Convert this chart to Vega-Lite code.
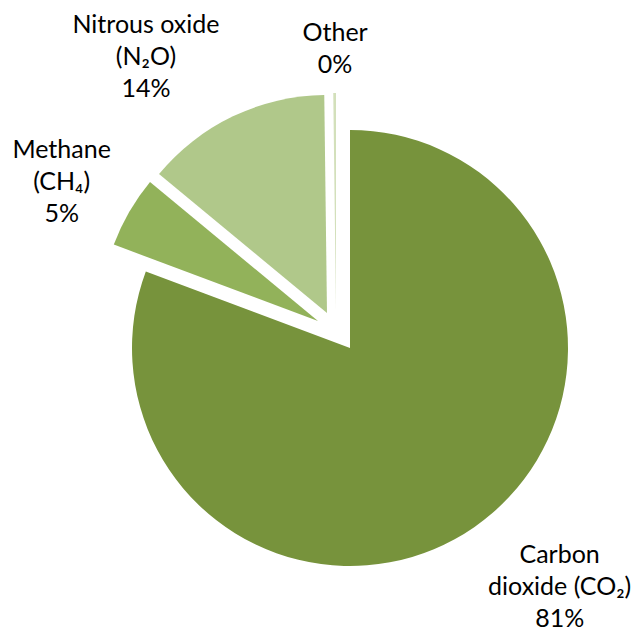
{
  "$schema": "https://vega.github.io/schema/vega-lite/v6.json",
  "autosize": {"type": "none"},
  "padding": {"left": 67, "top": 66, "right": 0, "bottom": 0},
  "width": 566,
  "height": 564,
  "background": "white",
  "view": {"stroke": null},
  "data": {
    "values": [
      {"gas": "Carbon dioxide", "label": ["Carbon", "dioxide (CO₂)", "81%"], "share": 80.7, "order": 1},
      {"gas": "Methane", "label": ["Methane", "(CH₄)", "5%"], "share": 5.3, "order": 2},
      {"gas": "Nitrous oxide", "label": ["Nitrous oxide", "(N₂O)", "14%"], "share": 13.8, "order": 3},
      {"gas": "Other", "label": ["Other", "0%"], "share": 0.2, "order": 4}
    ]
  },
  "transform": [
    {"stack": "share", "groupby": [], "sort": [{"field": "order", "order": "ascending"}], "as": ["start", "end"]},
    {"calculate": "(datum.start + datum.end) / 2", "as": "mid"}
  ],
  "encoding": {
    "color": {
      "field": "gas",
      "type": "nominal",
      "scale": {
        "domain": ["Carbon dioxide", "Methane", "Nitrous oxide", "Other"],
        "range": ["#77933c", "#92b25a", "#b0c88a", "#d3e0bb"]
      },
      "legend": null
    }
  },
  "layer": [
    {
      "transform": [{"filter": "datum.gas === 'Carbon dioxide'"}],
      "mark": {"type": "arc", "outerRadius": 218},
      "encoding": {"theta": {"field": "start", "type": "quantitative", "scale": {"domain": [0, 100]}}, "theta2": {"field": "end"}}
    },
    {
      "transform": [{"filter": "datum.gas === 'Methane'"}],
      "mark": {"type": "arc", "outerRadius": 218, "xOffset": -32, "yOffset": -27},
      "encoding": {"theta": {"field": "start", "type": "quantitative", "scale": {"domain": [0, 100]}}, "theta2": {"field": "end"}}
    },
    {
      "transform": [{"filter": "datum.gas === 'Nitrous oxide'"}],
      "mark": {"type": "arc", "outerRadius": 218, "xOffset": -23, "yOffset": -35},
      "encoding": {"theta": {"field": "start", "type": "quantitative", "scale": {"domain": [0, 100]}}, "theta2": {"field": "end"}}
    },
    {
      "transform": [{"filter": "datum.gas === 'Other'"}],
      "mark": {"type": "arc", "outerRadius": 218, "xOffset": -14, "yOffset": -37},
      "encoding": {"theta": {"field": "start", "type": "quantitative", "scale": {"domain": [0, 100]}}, "theta2": {"field": "end"}}
    },
    {
      "transform": [{"filter": "datum.gas === 'Carbon dioxide'"}],
      "mark": {"type": "text", "radius": 317, "dx": 29, "dy": -53, "font": "Lato", "fontSize": 25, "lineHeight": 32, "align": "center", "baseline": "middle"},
      "encoding": {"theta": {"field": "mid", "type": "quantitative", "scale": {"domain": [0, 100]}}, "text": {"field": "label"}, "color": {"value": "#000000"}}
    },
    {
      "transform": [{"filter": "datum.gas === 'Methane'"}],
      "mark": {"type": "text", "radius": 332, "dx": -1, "dy": -32, "font": "Lato", "fontSize": 25, "lineHeight": 32, "align": "center", "baseline": "middle"},
      "encoding": {"theta": {"field": "mid", "type": "quantitative", "scale": {"domain": [0, 100]}}, "text": {"field": "label"}, "color": {"value": "#000000"}}
    },
    {
      "transform": [{"filter": "datum.gas === 'Nitrous oxide'"}],
      "mark": {"type": "text", "radius": 350, "dx": -53, "dy": -7, "font": "Lato", "fontSize": 25, "lineHeight": 32, "align": "center", "baseline": "middle"},
      "encoding": {"theta": {"field": "mid", "type": "quantitative", "scale": {"domain": [0, 100]}}, "text": {"field": "label"}, "color": {"value": "#000000"}}
    },
    {
      "transform": [{"filter": "datum.gas === 'Other'"}],
      "mark": {"type": "text", "radius": 299, "dx": -13, "dy": -16, "font": "Lato", "fontSize": 25, "lineHeight": 32, "align": "center", "baseline": "middle"},
      "encoding": {"theta": {"field": "mid", "type": "quantitative", "scale": {"domain": [0, 100]}}, "text": {"field": "label"}, "color": {"value": "#000000"}}
    }
  ]
}
